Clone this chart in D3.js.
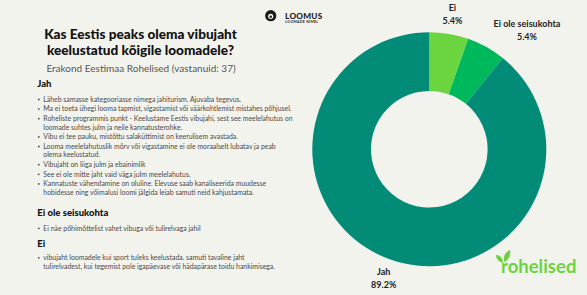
<!DOCTYPE html>
<html><head><meta charset="utf-8">
<script src="https://cdn.jsdelivr.net/npm/d3@7"></script>
<style>
html,body{margin:0;padding:0;background:#f3f3ee;}
svg{display:block;}
</style></head>
<body>
<svg id="c" width="587" height="295"></svg>
<script>
const categories = ["Ei", "Ei ole seisukohta", "Jah"];
const values = [5.4, 5.4, 89.2];
const valueLabels = ["5.4%", "5.4%", "89.2%"];
const colors = ["#6bd53f", "#00b85c", "#028c78"];

const titleLines = ["Kas Eestis peaks olema vibujaht", "keelustatud kõigile loomadele?"];
const subtitle = "Erakond Eestimaa Rohelised (vastanuid: 37)";

const jahHeading = "Jah";
const jahItems = [
  ["Läheb samasse kategooriasse nimega jahiturism. Ajuvaba tegevus."],
  ["Ma ei toeta ühegi looma tapmist, vigastamist või väärkohtlemist mistahes põhjusel."],
  ["Roheliste programmis punkt - Keelustame Eestis vibujahi, sest see meelelahutus on", "loomade suhtes julm ja neile kannatusterohke."],
  ["Vibu ei tee pauku, mistõttu salaküttimist on keerulisem avastada."],
  ["Looma meelelahutuslik mõrv või vigastamine ei ole moraalselt lubatav ja peab", "olema keelustatud."],
  ["Vibujaht on liiga julm ja ebainimlik"],
  ["See ei ole mitte jaht vaid väga julm meelelahutus."],
  ["Kannatuste vähendamine on oluline. Elevuse saab kanaliseerida muudesse", "hobidesse ning võimalusi loomi jälgida leiab samuti neid kahjustamata."]
];
const eiOleHeading = "Ei ole seisukohta";
const eiOleItems = [["Ei näe põhimõttelist vahet vibuga või tulirelvaga jahil"]];
const eiHeading = "Ei";
const eiItems = [["vibujaht loomadele kui sport tuleks keelustada. samuti tavaline jaht", "tulirelvadest, kui tegemist pole igapäevase või hädapärase toidu hankimisega."]];

const svg = d3.select("#c");
svg.append("rect").attr("width", 587).attr("height", 295).attr("fill", "#f3f3ee");

const headFont = "Lato, 'DejaVu Sans', sans-serif";

// Title
titleLines.forEach((t, i) => {
  svg.append("text").attr("x", 140.5).attr("y", 38.6 + i * 16.3)
    .attr("text-anchor", "middle").attr("font-family", headFont)
    .attr("font-weight", 900).attr("font-size", 13.6).attr("fill", "#111").text(t);
});
svg.append("text").attr("x", 141).attr("y", 71.7).attr("text-anchor", "middle")
  .attr("font-family", "Lato, sans-serif").attr("font-size", 10).attr("fill", "#555").text(subtitle);

// Sections
function heading(t, y) {
  svg.append("text").attr("x", 37.3).attr("y", y).attr("font-family", headFont)
    .attr("font-weight", 900).attr("font-size", 9.5).attr("fill", "#111").text(t);
}
function items(list, y0) {
  let y = y0;
  list.forEach(lines => {
    svg.append("circle").attr("cx", 38.8).attr("cy", y - 2.2).attr("r", 0.9).attr("fill", "#4a4a4a");
    lines.forEach((ln, j) => {
      svg.append("text").attr("x", 43.3).attr("y", y).attr("font-family", "Lato, sans-serif")
        .attr("font-size", 6.9).attr("fill", "#4a4a4a").text(ln);
      if (j < lines.length - 1) y += 8.6;
    });
    y += 9.6;
  });
}
heading(jahHeading, 87.3);
items(jahItems, 101.7);
heading(eiOleHeading, 215.5);
items(eiOleItems, 230.5);
heading(eiHeading, 246.5);
items(eiItems, 260);

// Donut
const cx = 429.3, cy = 149.2, rOut = 117, rIn = 58.3;
const pie = d3.pie().sort(null).value(d => d.v);
const data = categories.map((c, i) => ({c, v: values[i], l: valueLabels[i], col: colors[i]}));
const arcs = pie(data);
const arc = d3.arc().innerRadius(rIn).outerRadius(rOut);
const g = svg.append("g").attr("transform", `translate(${cx},${cy})`);
g.selectAll("path").data(arcs).join("path").attr("d", arc).attr("fill", d => d.data.col);

const labelArc = d3.arc().innerRadius(137).outerRadius(137);
arcs.forEach(a => {
  const [lx, ly] = labelArc.centroid(a);
  const mid = (a.startAngle + a.endAngle) / 2;
  const s = Math.sin(mid);
  const name = g.append("text").attr("y", ly - 3).attr("font-family", "Lato, sans-serif")
    .attr("font-weight", 700).attr("font-size", 9).attr("fill", "#222").text(a.data.c);
  const w = name.node().getComputedTextLength();
  let center;
  if (s > 0.4) center = lx - 2.5 + w / 2;
  else if (s < -0.4) center = lx - w / 2;
  else center = lx;
  name.attr("x", center).attr("text-anchor", "middle");
  g.append("text").attr("x", center).attr("y", ly + 10).attr("text-anchor", "middle")
    .attr("font-family", "Lato, sans-serif").attr("font-weight", 700).attr("font-size", 9)
    .attr("fill", "#222").text(a.data.l);
});

// LOOMUS logo
const lg = svg.append("g");
lg.append("circle").attr("cx", 270.7).attr("cy", 15.7).attr("r", 5.6).attr("fill", "#1a1a1a");
lg.append("circle").attr("cx", 270.7).attr("cy", 16.3).attr("r", 2.6).attr("fill", "#f3f3ee");
lg.append("circle").attr("cx", 270.7).attr("cy", 16.8).attr("r", 1.2).attr("fill", "#1a1a1a");
lg.append("text").attr("x", 285).attr("y", 18.5).attr("font-family", headFont).attr("font-weight", 900)
  .attr("font-size", 8.2).attr("fill", "#1a1a1a").attr("letter-spacing", 0.3).text("LOOMUS");
lg.append("text").attr("x", 285.3).attr("y", 23).attr("font-family", headFont).attr("font-weight", 700)
  .attr("font-size", 3.4).attr("fill", "#1a1a1a").attr("letter-spacing", 0.35).text("LOOMADE NIMEL");

// rohelised logo
const rg = svg.append("g");
rg.append("text").attr("x", 501).attr("y", 273.3).attr("font-family", "Lato, sans-serif")
  .attr("font-weight", 700).attr("font-size", 18.5).attr("fill", "#6bd33f").text("rohelised");
rg.append("path").attr("d", "M503,263 C499,262 496,259 496,255 C500,255 503,258 503,263 Z").attr("fill", "#6bd33f");
rg.append("path").attr("d", "M504,262 C503,257 505,252 510,250 C511,255 509,260 504,262 Z").attr("fill", "#6bd33f");
</script>
</body></html>
